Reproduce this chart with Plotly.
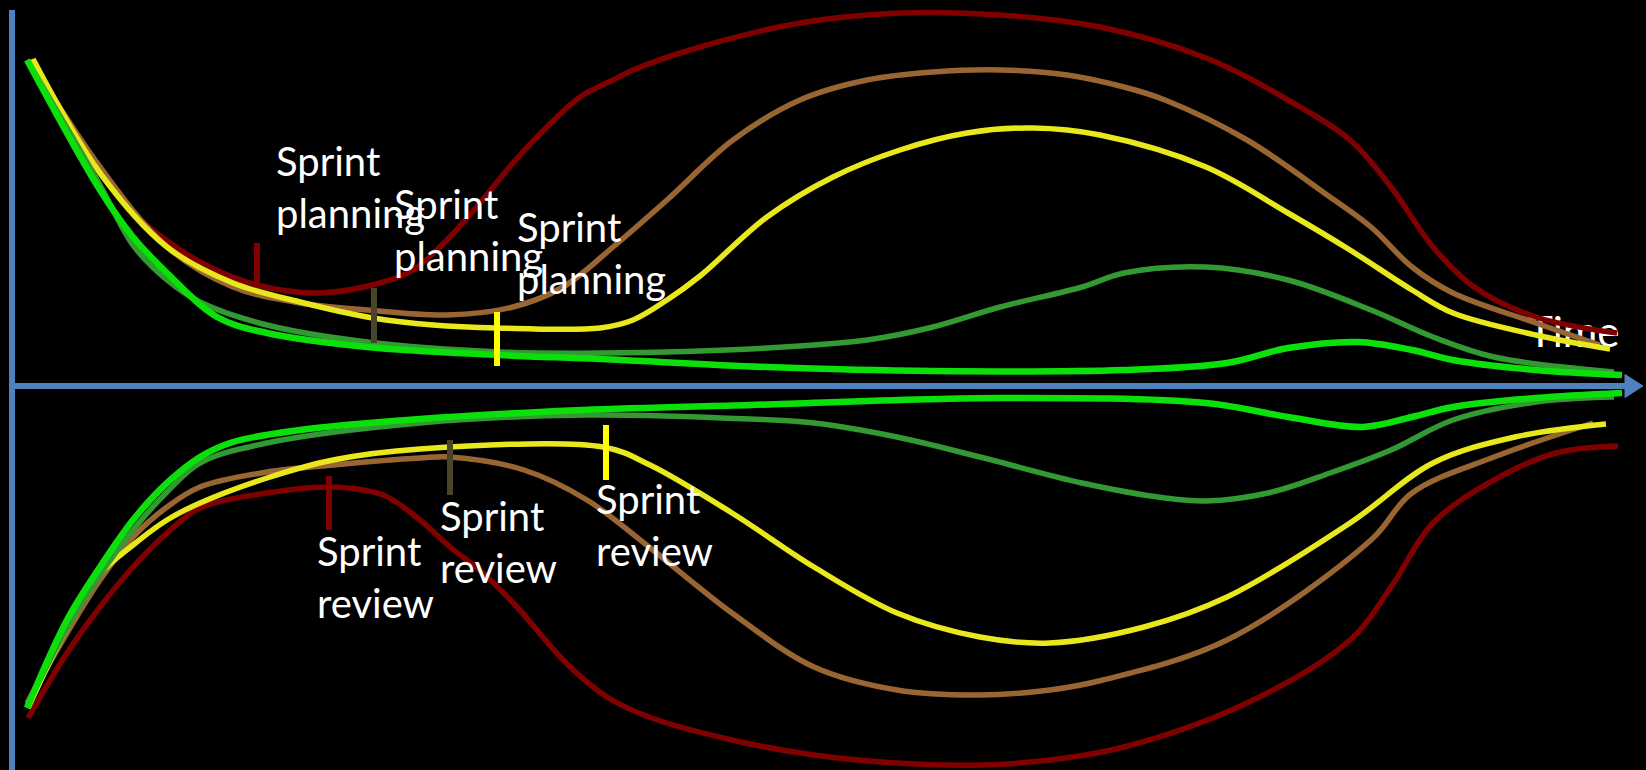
import plotly.graph_objects as go

# ---------------- data (time on x, level above/below the time axis on y) ----------------
# Upper half (Sprint planning side)
up_red_x = [30, 100, 133, 200, 257, 320, 380, 413, 447, 480, 513, 547, 580, 613, 633, 700, 800, 900, 1000, 1100, 1206, 1288, 1350, 1391, 1433, 1474, 1536, 1617]
up_red_y = [326, 216, 173, 124, 101, 93, 103, 116, 146, 183, 223, 259, 289, 306, 316, 339, 363, 373, 371, 359, 328, 286, 246, 199, 139, 99, 69, 53]

up_brown_x = [30, 100, 167, 233, 300, 367, 447, 513, 563, 613, 667, 733, 800, 867, 933, 1000, 1067, 1124, 1165, 1247, 1330, 1371, 1412, 1453, 1536, 1600]
up_brown_y = [326, 219, 139, 99, 83, 76, 71, 79, 99, 139, 186, 246, 286, 306, 314, 316, 311, 299, 286, 246, 189, 159, 119, 93, 63, 41]

up_yellow_x = [33, 100, 167, 233, 300, 373, 433, 497, 600, 633, 667, 700, 767, 833, 900, 967, 1033, 1100, 1206, 1288, 1350, 1412, 1453, 1536, 1610]
up_yellow_y = [327, 213, 139, 103, 84, 68, 61, 58, 58, 66, 86, 110, 169, 209, 236, 253, 258, 251, 219, 173, 136, 96, 73, 51, 37]

up_dgreen_x = [27, 100, 133, 167, 200, 267, 367, 500, 600, 767, 867, 933, 1000, 1082, 1124, 1206, 1288, 1371, 1433, 1494, 1614]
up_dgreen_y = [326, 201, 141, 106, 84, 61, 44, 34, 33, 38, 46, 59, 79, 99, 113, 119, 106, 76, 49, 29, 14]

up_green_x = [27, 100, 133, 167, 217, 267, 367, 500, 600, 767, 933, 1124, 1227, 1288, 1358, 1412, 1453, 1536, 1622]
up_green_y = [326, 196, 149, 113, 69, 53, 39, 31, 27, 19, 15, 16, 23, 38, 44, 36, 26, 16, 11]

# Lower half (Sprint review side)
lo_red_x = [28, 67, 100, 133, 167, 200, 267, 330, 383, 420, 450, 483, 517, 566, 607, 649, 732, 814, 897, 980, 1050, 1124, 1247, 1350, 1391, 1433, 1494, 1556, 1618]
lo_red_y = [-332, -267, -221, -181, -147, -122, -107, -101, -109, -134, -161, -187, -221, -277, -311, -331, -354, -369, -377, -379, -374, -361, -317, -254, -201, -137, -94, -67, -60]

lo_brown_x = [27, 67, 100, 133, 167, 200, 267, 333, 420, 450, 524, 587, 649, 732, 814, 897, 980, 1050, 1103, 1227, 1371, 1412, 1494, 1593]
lo_brown_y = [-317, -247, -194, -151, -121, -101, -86, -79, -72, -71, -84, -114, -161, -227, -281, -304, -309, -304, -294, -254, -154, -107, -71, -37]

lo_yellow_x = [28, 67, 100, 133, 167, 200, 267, 333, 420, 603, 650, 732, 814, 897, 980, 1050, 1144, 1227, 1350, 1433, 1515, 1606]
lo_yellow_y = [-322, -242, -188, -159, -134, -117, -92, -74, -63, -61, -79, -127, -181, -227, -251, -257, -241, -211, -137, -77, -51, -38]

lo_dgreen_x = [27, 67, 100, 133, 167, 200, 267, 420, 583, 750, 814, 897, 980, 1082, 1165, 1206, 1268, 1330, 1391, 1453, 1536, 1614]
lo_dgreen_y = [-320, -242, -189, -144, -106, -77, -57, -37, -29, -33, -37, -51, -71, -97, -112, -115, -107, -87, -64, -34, -16, -11]

lo_green_x = [27, 67, 100, 133, 167, 200, 233, 300, 420, 583, 750, 1000, 1206, 1288, 1363, 1412, 1453, 1536, 1622]
lo_green_y = [-322, -234, -181, -134, -97, -71, -56, -44, -33, -24, -19, -12, -17, -31, -41, -31, -21, -12, -7]

# Event markers: x position, value range (bottom, top)
plan_marker_x = [257, 374, 497]
plan_marker_lo = [99, 43, 20]
plan_marker_hi = [143, 98, 74]
review_marker_x = [329, 450, 606]
review_marker_lo = [-144, -109, -94]
review_marker_hi = [-90, -54, -39]
marker_colors = ["#800000", "#4A452A", "#FFFF00"]

# Labels
plan_label_x = [274, 392, 515]
plan_label_y = [251, 208, 185]
review_label_x = [315, 438, 594]
review_label_y = [-139, -104, -87]
plan_text = "Sprint<br>planning"
review_text = "Sprint<br>review"
time_label = "Time"
time_label_x = 1528
time_label_y = 50

# Axis geometry (value units)
X_MIN, X_MAX = 0, 1646
Y_MIN, Y_MAX = -384, 386
AXIS_X = 12
AXIS_TOP = 376
ARROW_BASE = 1625
ARROW_TIP = 1643
ARROW_HALF = 11.5

RED = "#800000"
BROWN = "#996633"
YELLOW = "#E8E81C"
DGREEN = "#339933"
GREEN = "#0BE00B"
BLUE = "#4F81BD"
FONT = "Lato"
LABEL_SIZE = 40

fig = go.Figure()

# "Time" label sits beneath the curves
fig.add_trace(go.Scatter(x=[time_label_x], y=[time_label_y], mode="text", text=[time_label],
                         textposition="middle right",
                         textfont=dict(family=FONT, size=42, color="white"),
                         hoverinfo="skip", showlegend=False))

series = [
    (up_red_x, up_red_y, RED, 5.5), (lo_red_x, lo_red_y, RED, 5.5),
    (up_brown_x, up_brown_y, BROWN, 5.5), (lo_brown_x, lo_brown_y, BROWN, 5.5),
    (up_yellow_x, up_yellow_y, YELLOW, 5.5), (lo_yellow_x, lo_yellow_y, YELLOW, 5.5),
    (up_dgreen_x, up_dgreen_y, DGREEN, 5.5), (lo_dgreen_x, lo_dgreen_y, DGREEN, 5.5),
    (up_green_x, up_green_y, GREEN, 6.5), (lo_green_x, lo_green_y, GREEN, 6.5),
]
for xs, ys, col, w in series:
    fig.add_trace(go.Scatter(x=xs, y=ys, mode="lines",
                             line=dict(color=col, width=w, shape="spline", smoothing=1.0),
                             hoverinfo="skip", showlegend=False))

for mx, lo, hi, col in zip(plan_marker_x + review_marker_x,
                           plan_marker_lo + review_marker_lo,
                           plan_marker_hi + review_marker_hi,
                           marker_colors + marker_colors):
    fig.add_trace(go.Scatter(x=[mx, mx], y=[lo, hi], mode="lines",
                             line=dict(color=col, width=6),
                             hoverinfo="skip", showlegend=False))

annotations = []
for lx, ly in zip(plan_label_x, plan_label_y):
    annotations.append(dict(x=lx, y=ly, xref="x", yref="y", text=plan_text, showarrow=False,
                            xanchor="left", yanchor="top", align="left",
                            font=dict(family=FONT, size=LABEL_SIZE, color="white")))
for lx, ly in zip(review_label_x, review_label_y):
    annotations.append(dict(x=lx, y=ly, xref="x", yref="y", text=review_text, showarrow=False,
                            xanchor="left", yanchor="top", align="left",
                            font=dict(family=FONT, size=LABEL_SIZE, color="white")))

shapes = [
    dict(type="line", x0=AXIS_X, x1=AXIS_X, y0=Y_MIN, y1=AXIS_TOP, xref="x", yref="y",
         line=dict(color=BLUE, width=6), layer="below"),
    dict(type="line", x0=AXIS_X - 3, x1=ARROW_BASE + 1, y0=0, y1=0, xref="x", yref="y",
         line=dict(color=BLUE, width=6), layer="below"),
    dict(type="path", xref="x", yref="y",
         path=f"M {ARROW_BASE},{ARROW_HALF} L {ARROW_TIP},0 L {ARROW_BASE},{-ARROW_HALF} Z",
         fillcolor=BLUE, line=dict(color=BLUE, width=1), layer="below"),
]

fig.update_layout(
    width=1646, height=770,
    margin=dict(l=0, r=0, t=0, b=0),
    paper_bgcolor="black", plot_bgcolor="black",
    xaxis=dict(range=[X_MIN, X_MAX], visible=False, fixedrange=True),
    yaxis=dict(range=[Y_MIN, Y_MAX], visible=False, fixedrange=True),
    showlegend=False,
    annotations=annotations,
    shapes=shapes,
)

fig.write_html("out.html", config={"displayModeBar": False},
               post_script="document.body.style.margin='0';document.body.style.background='black';")
